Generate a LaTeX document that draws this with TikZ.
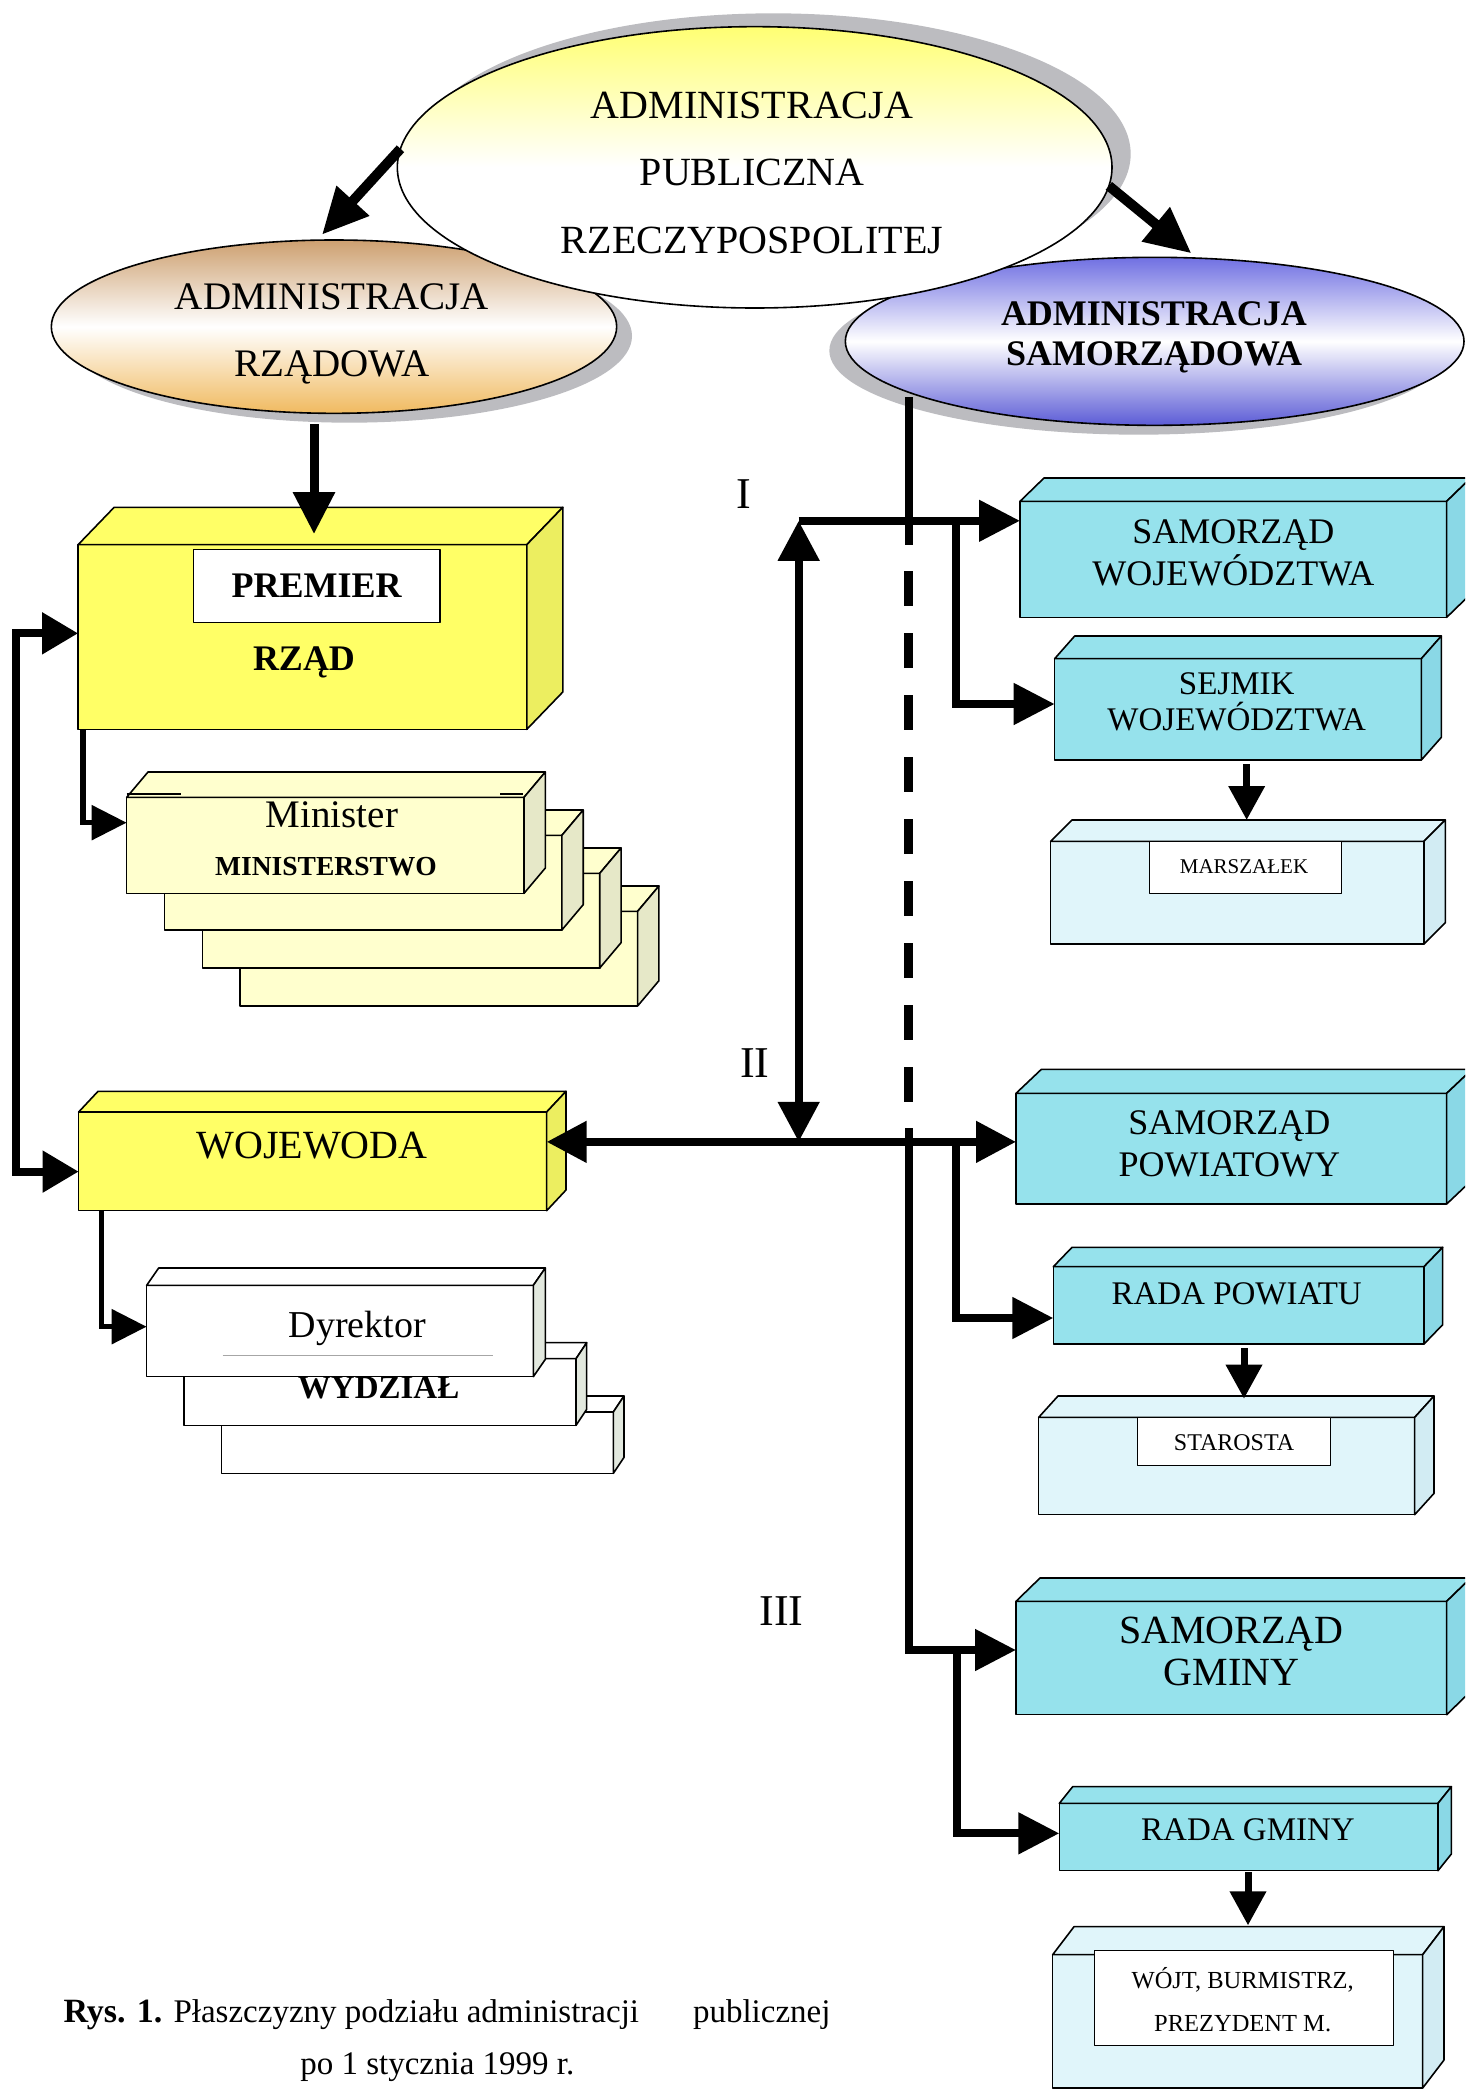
\documentclass[tikz,border=0pt]{standalone}
\usepackage{fontspec}
\setmainfont{Liberation Serif}
\usetikzlibrary{arrows.meta,calc,shapes.geometric}

\definecolor{yel}{RGB}{255,255,102}
\definecolor{yelside}{RGB}{236,238,96}
\definecolor{pyel}{RGB}{255,255,206}
\definecolor{pyelside}{RGB}{230,232,200}
\definecolor{wht}{RGB}{255,255,255}
\definecolor{whtside}{RGB}{226,232,222}
\definecolor{cyn}{RGB}{150,226,236}
\definecolor{cynside}{RGB}{138,216,230}
\definecolor{pcyn}{RGB}{224,245,250}
\definecolor{pcynside}{RGB}{210,236,243}
\definecolor{shadowc}{RGB}{188,188,192}
\definecolor{pubtop}{RGB}{255,255,115}
\definecolor{rztop}{RGB}{205,160,112}
\definecolor{rzbot}{RGB}{240,186,96}
\definecolor{satop}{RGB}{112,112,226}
\definecolor{sabot}{RGB}{92,92,214}

% name, x, y, w, h, dx, dy, front colour, side colour
\newcommand\cuboid[9]{%
  \node[bx, fill=#8, minimum width=#4*1.33333pt, minimum height=#5*1.33333pt, anchor=north west] (#1) at (#2,#3) {};
  \draw[bx, fill=#8] (#1.north west) -- ++(#6,-#7) -- ++(#4,0) -- (#1.north east) -- cycle;
  \draw[bx, fill=#9] (#1.north east) -- ++(#6,-#7) -- ++(0,#5) -- (#1.south east) -- cycle;
}
% name, x, y (visual centre), size, text
\newcommand\putt[5]{\node[anchor=base, inner sep=0pt, font=\fontsize{#4}{#4}\selectfont] (#1) at (#2,{#3+0.248*#4}) {#5};}

\begin{document}
\begin{tikzpicture}[x=1.33333pt, y=-1.33333pt,
  bx/.style={draw=black, line width=1.6pt, line join=round, inner sep=0pt, outer sep=0pt},
  line8/.style={line width=8pt},
  arrB/.style={line width=8pt, -{Triangle[length=41pt,width=40pt]}},
  dblB/.style={line width=8pt, {Triangle[length=40pt,width=40pt]}-{Triangle[length=40pt,width=40pt]}},
  arrSm/.style={line width=7pt, -{Triangle[length=34pt,width=35pt]}},
  arrS/.style={line width=5.5pt, -{Triangle[length=35pt,width=34pt]}},
  arrT/.style={line width=10pt, -{Triangle[length=46pt,width=42pt]}},
  arrD/.style={line width=9pt, -{Triangle[length=42pt,width=40pt]}},
  ell/.style={ellipse, inner sep=0pt, outer sep=0pt},
]
\path[use as bounding box] (0,0) rectangle (1098.75,1567.5);
\clip (0,0) rectangle (1098.75,1567.5);
\fill[white] (0,0) rectangle (1098.75,1567.5);

% ---------- ellipses ----------
\node[ell, fill=shadowc, minimum width=424*1.33333pt, minimum height=130*1.33333pt] (rzadsh) at (262,252) {};
\node[ell, draw=black, line width=1.6pt, top color=rztop, bottom color=rzbot, middle color=white,
      minimum width=424*1.33333pt, minimum height=130*1.33333pt] (rzad) at (250.5,245) {};
\node[ell, fill=shadowc, minimum width=464*1.33333pt, minimum height=126*1.33333pt] (samosh) at (854,263) {};
\node[ell, draw=black, line width=1.6pt, top color=satop, bottom color=sabot, middle color=white,
      minimum width=464*1.33333pt, minimum height=126*1.33333pt] (samo) at (866,256) {};
\node[ell, fill=shadowc, minimum width=536*1.33333pt, minimum height=211*1.33333pt] (pubsh) at (580,115.5) {};
\node[ell, draw=black, line width=1.6pt, top color=pubtop, bottom color=white, middle color=white,
      minimum width=536*1.33333pt, minimum height=211*1.33333pt] (pub) at (566,125.5) {};

\putt{pub1}{564}{79}{40}{ADMINISTRACJA}
\putt{pub2}{564}{129}{40}{PUBLICZNA}
\putt{pub3}{564}{180}{40}{RZECZYPOSPOLITEJ}
\putt{rz1}{249}{222.5}{39}{ADMINISTRACJA}
\putt{rz2}{249}{272.5}{39}{RZĄDOWA}
\putt{sa1}{865.5}{235}{36}{\bfseries ADMINISTRACJA}
\putt{sa2}{865.5}{265}{36}{\bfseries SAMORZĄDOWA}

% ---------- left column ----------
\cuboid{premier}{58.6}{408.5}{336.5}{138.5}{27}{28}{yel}{yelside}
\node[bx, fill=white, minimum width=185*1.33333pt, minimum height=55*1.33333pt, anchor=north west] (premlab) at (145,412) {};
\putt{premtxt}{237.5}{439}{36}{\bfseries PREMIER}
\putt{rzadtxt}{228}{494}{36}{\bfseries RZĄD}

\cuboid{min4}{180.2}{683.5}{298}{71}{16}{19}{pyel}{pyelside}
\cuboid{min3}{151.8}{655}{298}{71}{16}{19}{pyel}{pyelside}
\cuboid{min2}{123.4}{626.5}{298}{71}{16}{19}{pyel}{pyelside}
\cuboid{min1}{95}{598}{298}{72}{16}{19}{pyel}{pyelside}
\draw[line width=1.6pt] (95,595.3) -- (136,595.3);
\draw[line width=1.6pt] (375,595.3) -- (392,595.3);
\putt{mintxt}{249}{611}{39}{Minister}
\putt{ministxt}{244.5}{649.5}{27.5}{\bfseries MINISTERSTWO}

\cuboid{wojewoda}{59}{834}{351}{74}{14.5}{15.5}{yel}{yelside}
\putt{wojtxt}{234}{859}{40}{WOJEWODA}

\cuboid{dyr3}{166}{1059}{294}{46}{8}{12}{wht}{whtside}
\cuboid{dyr2}{138}{1019}{294}{50}{8}{12}{wht}{whtside}
\node[anchor=base, inner sep=0pt, font=\fontsize{33}{33}\selectfont\bfseries] (wydzial) at (284,1048.5) {WYDZIAŁ};
\cuboid{dyr1}{110}{964}{290}{68.5}{9}{13}{wht}{whtside}
\putt{dyrtxt}{268}{994}{38}{Dyrektor}
\draw[gray!70, line width=1.2pt] (167,1016.5) -- (370,1016.5);

% ---------- right column ----------
\cuboid{samwoj}{765}{376}{320}{87}{18}{17.5}{cyn}{cynside}
\putt{sw1}{925}{399}{36}{SAMORZĄD}
\putt{sw2}{925}{430}{36}{WOJEWÓDZTWA}

\cuboid{sejmik}{791}{494}{275}{76}{15}{17}{cyn}{cynside}
\putt{sj1}{927.5}{512.6}{33}{SEJMIK}
\putt{sj2}{927.5}{540}{33}{WOJEWÓDZTWA}

\cuboid{marsz}{788}{631}{280}{77}{16}{16}{pcyn}{pcynside}
\node[bx, fill=white, minimum width=144*1.33333pt, minimum height=39*1.33333pt, anchor=north west] (marszlab) at (862,631) {};
\putt{marsztxt}{933}{650}{21}{MARSZAŁEK}

\cuboid{sampow}{762}{820}{323}{83}{19}{18}{cyn}{cynside}
\putt{sp1}{922}{842}{36}{SAMORZĄD}
\putt{sp2}{922}{873.6}{36}{POWIATOWY}

\cuboid{radpow}{790}{950}{278}{58}{14}{14.5}{cyn}{cynside}
\putt{rptxt}{927.5}{970}{33}{RADA POWIATU}

\cuboid{staro}{779}{1063}{282}{73}{14.5}{16}{pcyn}{pcynside}
\node[bx, fill=white, minimum width=145*1.33333pt, minimum height=36*1.33333pt, anchor=north west] (starolab) at (853,1063) {};
\putt{starotxt}{925.5}{1082}{24}{STAROSTA}

\cuboid{samgm}{762}{1201}{323}{85}{18}{17.5}{cyn}{cynside}
\putt{sg1}{923.5}{1222.5}{40}{SAMORZĄD}
\putt{sg2}{923.5}{1254}{40}{GMINY}

\cuboid{radgm}{794.5}{1352.5}{284}{50.5}{10}{12.5}{cyn}{cynside}
\putt{rgtxt}{936}{1372.5}{33}{RADA GMINY}

\cuboid{wojt}{789.5}{1466}{277.5}{100}{16}{21}{pcyn}{pcynside}
\node[bx, fill=white, minimum width=224*1.33333pt, minimum height=71*1.33333pt, anchor=north west] (wojtlab) at (821,1463) {};
\putt{wojt1}{932}{1485}{24.5}{WÓJT, BURMISTRZ,}
\putt{wojt2}{932}{1517.5}{24.5}{PREZYDENT M.}

% ---------- level labels ----------
\putt{lvlI}{558}{370.5}{44}{I}
\putt{lvlII}{566}{797}{44}{II}
\putt{lvlIII}{586}{1208}{44}{III}

% ---------- connectors ----------
\draw[arrT] (pub.177) -- ($(rzad.north)+(-9,-4)$);
\draw[arrT] (pub.-3) -- ($(samo.north)+(27.5,-3)$);

\coordinate (rzadout) at (235.5,318);
\coordinate (premtop) at (235.5,400.6);
\draw[arrD] (rzadout) -- (premtop);

\coordinate (L1) at (11.7,475);
\coordinate (L2) at (11.7,878.7);
\draw[line width=8pt, {Triangle[length=36pt,width=40pt]}-{Triangle[length=36pt,width=40pt]}]
  (premier.west |- L1) -- (L1) -- (L2) -- (wojewoda.west |- L2);

\draw[arrS] ($(premier.south west)+(3.5,0)$) |- ($(min1.north west)+(0,19)$);
\draw[arrS] ($(wojewoda.south west)+(17,0)$) |- ($(dyr1.north west)+(0,31)$);

\coordinate (t0) at (681.5,298);
\coordinate (t1) at (681.5,408.75);
\coordinate (t2) at (681.5,428.25);
\coordinate (t3) at (681.5,826.5);
\coordinate (t4) at (681.5,846);
\coordinate (jI) at (599,390.6);
\coordinate (jII) at (599,856.4);
\coordinate (bI) at (717,390.6);
\coordinate (bII) at (717,856.4);
\coordinate (bIII) at (718,1237.5);

\draw[line8] (t0) -- (t1);
\draw[line width=9pt, dash pattern=on 35pt off 27pt] (t2) -- (t3);
\draw[arrB] (t4) |- (samgm.west |- bIII);
\draw[arrB] (jI) -- (samwoj.west |- jI);
\draw[dblB] (jI) -- (jII);
\draw[arrB] (bI) |- ($(sejmik.north west)+(0,34)$);
\draw[dblB] (wojewoda.east |- jII) -- (sampow.west |- jII);
\draw[arrB] (bII) |- ($(radpow.north west)+(0,38.5)$);
\draw[arrB] (bIII) |- ($(radgm.north west)+(0,22.5)$);
\draw[arrSm] ($(sejmik.south west)+(144,3)$) -- ($(marsz.north west)+(147,-16)$);
\draw[arrSm] ($(radpow.south west)+(143,3)$) -- ($(staro.north west)+(154,-14)$);
\draw[arrSm] ($(radgm.south west)+(141.5,1)$) -- ($(wojt.north west)+(146.5,-22)$);

% ---------- caption ----------
\node[anchor=base east, inner sep=0pt, font=\fontsize{34}{34}\selectfont\bfseries] (rys) at (122,1517) {Rys. 1.};
\node[anchor=base west, inner sep=0pt, font=\fontsize{33}{33}\selectfont] (cap1) at (130,1517) {Płaszczyzny podziału administracji};
\node[anchor=base east, inner sep=0pt, font=\fontsize{33}{33}\selectfont] (cap2) at (623,1517) {publicznej};
\node[anchor=base, inner sep=0pt, font=\fontsize{33}{33}\selectfont] (cap3) at (328,1556) {po 1 stycznia 1999 r.};
\end{tikzpicture}
\end{document}
